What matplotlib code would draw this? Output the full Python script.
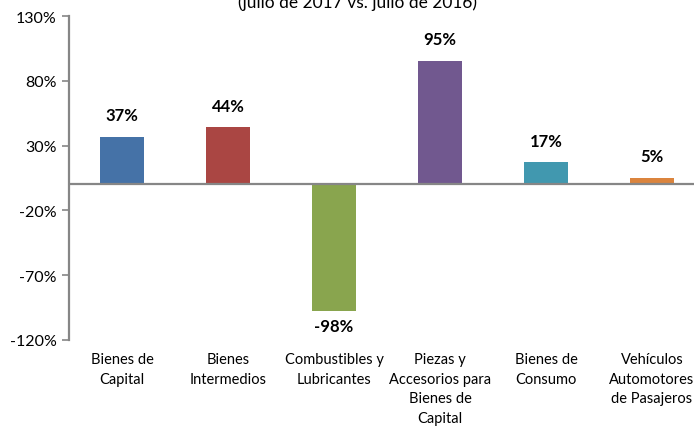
import matplotlib
matplotlib.use("Agg")
import matplotlib.pyplot as plt
from matplotlib.ticker import FuncFormatter

plt.rcParams['font.family'] = ['Lato', 'DejaVu Sans']

# data
categories = ["Bienes de\nCapital", "Bienes\nIntermedios", "Combustibles y\nLubricantes",
              "Piezas y\nAccesorios para\nBienes de\nCapital", "Bienes de\nConsumo",
              "Vehículos\nAutomotores\nde Pasajeros"]
values = [37, 44, -98, 95, 17, 5]
colors = ["#4572A7", "#AA4643", "#89A54E", "#71588F", "#4198AF", "#DB843D"]
title = "(julio de 2017 vs. julio de 2016)"

fig = plt.figure(figsize=(6.94, 4.27), dpi=100)
# axes runs a bit past the right edge, like the cropped original
ax = fig.add_axes([69 / 694, 86 / 427, 636 / 694, 324 / 427])

x = range(len(values))
ax.bar(x, values, width=0.41, color=colors, zorder=2)
ax.axhline(0, color="#868686", lw=1.6, zorder=3)

for i, v in enumerate(values):
    if v >= 0:
        ax.annotate(f"{v}%", (i, v), xytext=(0, 10), textcoords="offset points",
                    ha="center", va="bottom", fontsize=12, fontweight="bold")
    else:
        ax.annotate(f"{v}%", (i, v), xytext=(0, -5), textcoords="offset points",
                    ha="center", va="top", fontsize=12, fontweight="bold")

ax.set_xlim(-0.5, len(values) - 0.5)
ax.set_ylim(-120, 130)
ax.set_yticks([-120, -70, -20, 30, 80, 130])
ax.yaxis.set_major_formatter(FuncFormatter(lambda v, p: f"{v:.0f}%"))
ax.tick_params(axis="y", labelsize=11.5, length=5, color="#868686", width=1.2, pad=4)

ax.set_xticks(list(x))
ax.set_xticklabels(categories, fontsize=10.5, linespacing=1.5)
ax.tick_params(axis="x", length=0, pad=9)

for s in ["top", "right", "bottom"]:
    ax.spines[s].set_visible(False)
ax.spines["left"].set_color("#868686")
ax.spines["left"].set_linewidth(1.6)

fig.text(357 / 694, 1.0 - 3 / 427, title, ha="center", va="center",
         fontsize=12.5, fontweight="normal")

fig.savefig("out.png", dpi=100)
